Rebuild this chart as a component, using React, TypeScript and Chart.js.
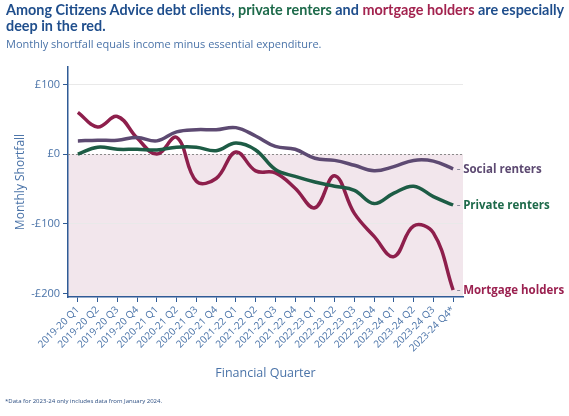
import React, { useEffect, useRef } from 'react';
import { Chart, registerables } from 'chart.js';

Chart.register(...registerables);

const FONT = '"Open Sans", "Noto Sans", sans-serif';
const TITLE_FONT = 'Lato, "Open Sans", sans-serif';
const BLUE = '#1f4e8c';
const AXIS_BLUE = '#4a73a8';
const LINE_AXIS = '#2f5b96';

const quarters = [
  '2019-20 Q1', '2019-20 Q2', '2019-20 Q3', '2019-20 Q4',
  '2020-21 Q1', '2020-21 Q2', '2020-21 Q3', '2020-21 Q4',
  '2021-22 Q1', '2021-22 Q2', '2021-22 Q3', '2021-22 Q4',
  '2022-23 Q1', '2022-23 Q2', '2022-23 Q3', '2022-23 Q4',
  '2023-24 Q1', '2023-24 Q2', '2023-24 Q3', '2023-24 Q4*',
];

const socialRenters = [19, 20, 20, 24, 19, 32, 35, 35, 38, 26, 11, 7, -6, -9, -16, -24, -18, -9, -10, -21];
const privateRenters = [0, 10, 7, 7, 6, 10, 10, 5, 16, 6, -22, -32, -40, -46, -52, -71, -56, -46, -61, -73];
const mortgageHolders = [60, 39, 54, 23, 0, 24, -39, -35, 3, -24, -27, -49, -77, -31, -85, -118, -147, -103, -113, -195];

const yTickValues = [-200, -100, 0, 100];

const seriesNames = ['Social renters', 'Private renters', 'Mortgage holders'];
const seriesColors = ['#5d4a72', '#1d5c45', '#8e1f4c'];
const labelColors = ['#5d4a72', '#1d6a4a', '#9b2150'];

// Pale band under the zero line
const shortfallBand = {
  id: 'shortfallBand',
  beforeDraw(chart: any) {
    const { ctx, chartArea, scales } = chart;
    const y0 = scales.y.getPixelForValue(0);
    ctx.save();
    ctx.fillStyle = '#f2e6ec';
    ctx.fillRect(chartArea.left, y0, chartArea.right - chartArea.left, chartArea.bottom - y0);
    ctx.restore();
  },
};

// Dotted break-even line
const zeroLine = {
  id: 'zeroLine',
  beforeDatasetsDraw(chart: any) {
    const { ctx, chartArea, scales } = chart;
    const y0 = Math.round(scales.y.getPixelForValue(0)) + 0.5;
    ctx.save();
    ctx.strokeStyle = '#8a8a8a';
    ctx.lineWidth = 1;
    ctx.setLineDash([2, 2]);
    ctx.beginPath();
    ctx.moveTo(chartArea.left, y0);
    ctx.lineTo(chartArea.right, y0);
    ctx.stroke();
    ctx.restore();
  },
};

// Series names written at the end of each line, after a short grey dash
const endLabels = {
  id: 'endLabels',
  afterDatasetsDraw(chart: any) {
    const { ctx } = chart;
    ctx.save();
    ctx.textBaseline = 'middle';
    ctx.textAlign = 'left';
    chart.data.datasets.forEach((ds: any, i: number) => {
      const meta = chart.getDatasetMeta(i);
      const pt = meta.data[meta.data.length - 1];
      ctx.strokeStyle = '#8c8c9c';
      ctx.lineWidth = 1;
      ctx.beginPath();
      ctx.moveTo(pt.x + 4, Math.round(pt.y) + 0.5);
      ctx.lineTo(pt.x + 7, Math.round(pt.y) + 0.5);
      ctx.stroke();
      ctx.font = `bold 11.5px ${FONT}`;
      ctx.fillStyle = labelColors[i];
      ctx.fillText(seriesNames[i], pt.x + 10, pt.y + 1);
    });
    ctx.restore();
  },
};

export default function App() {
  const canvasRef = useRef<HTMLCanvasElement | null>(null);

  useEffect(() => {
    const canvas = canvasRef.current;
    if (!canvas) return;
    const values = [socialRenters, privateRenters, mortgageHolders];
    const chart = new Chart(canvas, {
      type: 'line',
      data: {
        labels: quarters,
        datasets: values.map((v, i) => ({
          label: seriesNames[i],
          data: v,
          borderColor: seriesColors[i],
          backgroundColor: seriesColors[i],
          borderWidth: 3.5,
          tension: 0.4,
          pointRadius: 0,
          fill: false,
        })),
      },
      options: {
        responsive: false,
        animation: false,
        devicePixelRatio: 1,
        layout: { padding: { top: 67, right: 106, bottom: 31, left: 0 } },
        plugins: {
          legend: { display: false },
          tooltip: { enabled: false },
        },
        scales: {
          x: {
            type: 'category',
            offset: true,
            grid: {
              drawOnChartArea: false,
              drawTicks: true,
              tickLength: 5,
              color: LINE_AXIS,
            },
            border: { display: true, color: LINE_AXIS, width: 1.5 },
            ticks: {
              minRotation: 45,
              maxRotation: 45,
              autoSkip: false,
              padding: 2,
              color: AXIS_BLUE,
              font: { family: FONT, size: 10 },
            },
            title: {
              display: true,
              text: 'Financial Quarter',
              color: AXIS_BLUE,
              font: { family: FONT, size: 12.5 },
              padding: 4,
            },
            afterFit(scale: any) {
              scale.height = 88;
            },
          },
          y: {
            min: -205,
            max: 125,
            afterBuildTicks(scale: any) {
              scale.ticks = yTickValues.map((value) => ({ value }));
            },
            grid: {
              color: (ctx: any) => (ctx.tick && ctx.tick.value === 0 ? 'rgba(0,0,0,0)' : '#e9e9e9'),
              tickColor: LINE_AXIS,
              tickLength: 5,
              lineWidth: 1,
            },
            border: { display: true, color: LINE_AXIS, width: 1.5 },
            ticks: {
              padding: 3,
              color: AXIS_BLUE,
              font: { family: FONT, size: 11 },
              callback: (v: any) => (Number(v) < 0 ? '-£' + Math.abs(Number(v)) : '£' + v),
            },
            title: {
              display: true,
              text: 'Monthly Shortfall',
              color: AXIS_BLUE,
              font: { family: FONT, size: 12 },
              padding: { top: 13, bottom: 4 },
            },
            afterFit(scale: any) {
              scale.width = 68;
            },
          },
        },
      },
      plugins: [shortfallBand, zeroLine, endLabels],
    });
    return () => chart.destroy();
  }, []);

  return (
    <div
      style={{
        position: 'absolute',
        left: 0,
        top: 0,
        width: 569,
        height: 416,
        background: '#ffffff',
        fontFamily: FONT,
        overflow: 'hidden',
      }}
    >
      <canvas
        ref={canvasRef}
        width={569}
        height={416}
        style={{ position: 'absolute', left: 0, top: 0, width: 569, height: 416 }}
      />
      <div
        style={{
          position: 'absolute',
          left: 6,
          top: 2,
          fontFamily: TITLE_FONT,
          fontSize: 14.4,
          fontWeight: 700,
          lineHeight: '16px',
          color: BLUE,
          whiteSpace: 'nowrap',
        }}
      >
        Among Citizens Advice debt clients, <span style={{ color: '#1d6a4a' }}>private renters</span> and{' '}
        <span style={{ color: '#a3234f' }}>mortgage holders</span> are especially
        <br />
        deep in the red.
      </div>
      <div
        style={{
          position: 'absolute',
          left: 6,
          top: 37,
          fontSize: 11,
          lineHeight: '14px',
          color: '#4a73a8',
          whiteSpace: 'nowrap',
        }}
      >
        Monthly shortfall equals income minus essential expenditure.
      </div>
      <div
        style={{
          position: 'absolute',
          left: 5,
          top: 397,
          fontSize: 6,
          lineHeight: '8px',
          color: '#2b4d80',
          whiteSpace: 'nowrap',
        }}
      >
        *Data for 2023-24 only includes data from January 2024.
      </div>
    </div>
  );
}
